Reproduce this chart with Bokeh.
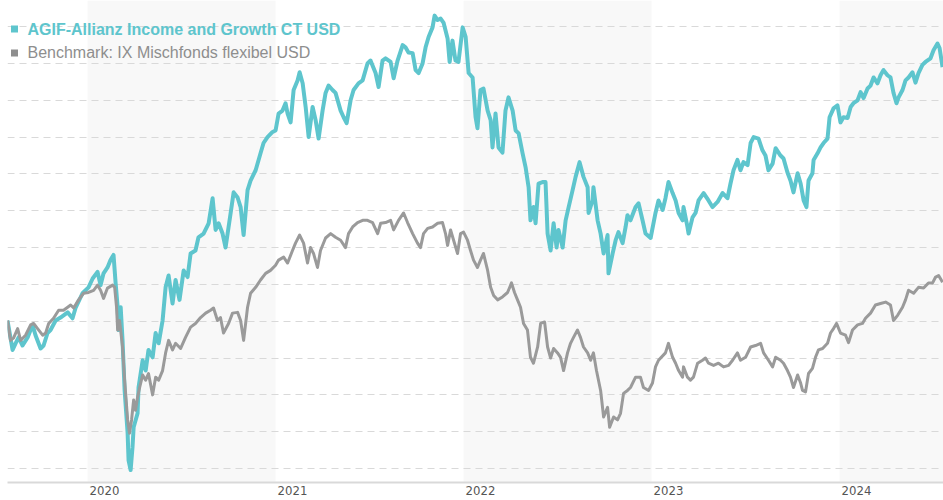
from bokeh.plotting import figure
from bokeh.models import Range1d, BoxAnnotation, FixedTicker, Label
from bokeh.embed import file_html
from bokeh.resources import INLINE

# ---------------- data (performance in %, time in decimal years) ----------------
FUND_NAME = "AGIF-Allianz Income and Growth CT USD"
BENCH_NAME = "Benchmark: IX Mischfonds flexibel USD"

YEARS = [2020, 2021, 2022, 2023, 2024]
SHADED_YEARS = [2020, 2022, 2024]
GRID_VALUES = [-20, -15, -10, -5, 0, 5, 10, 15, 20, 25, 30, 35, 40]

FUND_T = [
    2019.574, 2019.601, 2019.617, 2019.633, 2019.654, 2019.681, 2019.707, 2019.723, 2019.750, 2019.766,
    2019.787, 2019.803, 2019.830, 2019.856, 2019.894, 2019.920, 2019.936, 2019.973, 2020.005, 2020.027,
    2020.053, 2020.069, 2020.085, 2020.106, 2020.122, 2020.138, 2020.149, 2020.160, 2020.165, 2020.176,
    2020.186, 2020.197, 2020.213, 2020.218, 2020.229, 2020.239, 2020.245, 2020.266, 2020.271, 2020.293,
    2020.309, 2020.324, 2020.346, 2020.362, 2020.378, 2020.399, 2020.415, 2020.431, 2020.452, 2020.468,
    2020.489, 2020.511, 2020.532, 2020.548, 2020.574, 2020.590, 2020.617, 2020.644, 2020.665, 2020.681,
    2020.697, 2020.718, 2020.734, 2020.761, 2020.777, 2020.798, 2020.814, 2020.830, 2020.851, 2020.867,
    2020.894, 2020.920, 2020.936, 2020.957, 2020.984, 2021.000, 2021.016, 2021.037, 2021.053, 2021.064,
    2021.080, 2021.096, 2021.117, 2021.128, 2021.144, 2021.160, 2021.176, 2021.197, 2021.213, 2021.229,
    2021.250, 2021.266, 2021.282, 2021.303, 2021.319, 2021.346, 2021.362, 2021.378, 2021.399, 2021.415,
    2021.441, 2021.463, 2021.489, 2021.505, 2021.532, 2021.548, 2021.569, 2021.585, 2021.612, 2021.628,
    2021.649, 2021.676, 2021.691, 2021.707, 2021.729, 2021.745, 2021.761, 2021.782, 2021.798, 2021.814,
    2021.835, 2021.846, 2021.862, 2021.878, 2021.894, 2021.915, 2021.926, 2021.941, 2021.957, 2021.973,
    2021.995, 2022.011, 2022.027, 2022.048, 2022.064, 2022.074, 2022.090, 2022.106, 2022.128, 2022.144,
    2022.154, 2022.170, 2022.186, 2022.207, 2022.223, 2022.239, 2022.261, 2022.277, 2022.293, 2022.314,
    2022.330, 2022.346, 2022.356, 2022.372, 2022.383, 2022.399, 2022.420, 2022.436, 2022.447, 2022.463,
    2022.479, 2022.495, 2022.505, 2022.527, 2022.543, 2022.559, 2022.580, 2022.596, 2022.617, 2022.638,
    2022.660, 2022.665, 2022.686, 2022.691, 2022.713, 2022.729, 2022.745, 2022.766, 2022.771, 2022.793,
    2022.809, 2022.824, 2022.846, 2022.862, 2022.872, 2022.888, 2022.915, 2022.931, 2022.952, 2022.968,
    2022.995, 2023.021, 2023.037, 2023.059, 2023.074, 2023.090, 2023.112, 2023.128, 2023.144, 2023.165,
    2023.170, 2023.191, 2023.197, 2023.218, 2023.234, 2023.250, 2023.277, 2023.303, 2023.324, 2023.351,
    2023.378, 2023.404, 2023.420, 2023.436, 2023.457, 2023.473, 2023.489, 2023.511, 2023.527, 2023.543,
    2023.569, 2023.590, 2023.606, 2023.622, 2023.644, 2023.660, 2023.686, 2023.702, 2023.723, 2023.739,
    2023.755, 2023.777, 2023.793, 2023.809, 2023.824, 2023.835, 2023.856, 2023.862, 2023.883, 2023.899,
    2023.915, 2023.936, 2023.947, 2023.968, 2023.989, 2024.005, 2024.021, 2024.043, 2024.059, 2024.074,
    2024.096, 2024.112, 2024.128, 2024.149, 2024.165, 2024.181, 2024.202, 2024.218, 2024.234, 2024.255,
    2024.271, 2024.287, 2024.303, 2024.314, 2024.335, 2024.351, 2024.367, 2024.388, 2024.404, 2024.420,
    2024.441, 2024.457, 2024.484, 2024.500, 2024.521, 2024.532, 2024.548,
]
FUND_V = [
    0.1, -3.9, -3.0, -2.2, -3.3, -2.2, -0.5, -1.9, -3.7, -3.3,
    -1.6, -1.2, 0.1, 0.5, 1.2, 0.4, 1.8, 3.8, 4.6, 5.8,
    6.7, 4.9, 6.5, 7.3, 8.3, 9.0, 5.2, 1.9, -1.2, 1.9,
    -2.6, -9.4, -15.2, -18.9, -20.2, -17.1, -14.4, -12.5, -9.0, -5.3,
    -6.7, -3.9, -4.9, -1.6, -3.0, 0.1, 4.6, 6.2, 2.4, 5.6,
    2.9, 6.9, 6.0, 9.2, 9.6, 11.4, 11.9, 13.3, 16.7, 12.4,
    13.3, 11.9, 10.0, 14.7, 17.5, 16.8, 15.5, 11.7, 17.8, 19.1,
    20.5, 22.8, 24.2, 25.0, 25.7, 25.9, 28.2, 28.6, 29.6, 28.2,
    27.0, 31.4, 32.7, 33.8, 32.3, 29.1, 25.0, 29.1, 27.3, 24.8,
    28.6, 31.0, 32.0, 31.4, 31.0, 28.6, 27.7, 26.9, 30.0, 31.4,
    32.3, 32.7, 35.0, 35.4, 33.7, 31.8, 35.4, 35.7, 35.2, 33.0,
    35.4, 37.5, 37.2, 36.5, 36.4, 34.1, 33.7, 35.0, 37.2, 38.6,
    39.9, 41.5, 40.9, 41.1, 40.5, 38.4, 35.2, 38.1, 35.4, 35.2,
    39.9, 38.6, 33.7, 33.1, 27.7, 26.2, 31.4, 31.6, 28.6, 27.3,
    23.6, 28.2, 23.6, 22.9, 28.6, 30.4, 28.6, 25.9, 25.5, 22.8,
    20.9, 18.2, 13.7, 15.5, 13.3, 18.7, 18.9, 18.9, 11.9, 9.6,
    13.3, 10.0, 12.4, 10.0, 13.7, 15.5, 17.8, 19.6, 21.6, 19.6,
    18.2, 14.7, 16.4, 18.2, 13.7, 11.9, 9.2, 11.7, 6.5, 9.2,
    11.0, 12.1, 10.6, 12.8, 14.4, 13.7, 15.5, 16.0, 13.7, 11.9,
    11.3, 14.7, 16.4, 15.1, 16.7, 18.9, 17.4, 16.4, 14.7, 13.7,
    15.5, 12.8, 11.9, 14.1, 14.7, 16.4, 17.4, 16.4, 15.5, 16.2,
    17.4, 16.7, 18.7, 20.5, 21.9, 20.5, 21.6, 21.2, 24.2, 25.0,
    24.8, 23.2, 22.5, 20.5, 21.4, 23.5, 22.5, 22.1, 20.2, 19.1,
    17.5, 20.1, 18.7, 16.4, 15.5, 19.1, 20.1, 21.9, 22.8, 23.6,
    24.2, 24.8, 27.7, 28.9, 29.3, 27.0, 27.7, 27.6, 29.1, 29.6,
    30.0, 31.1, 30.3, 31.6, 32.0, 33.1, 32.3, 33.4, 34.1, 33.4,
    33.1, 31.0, 29.6, 30.4, 31.4, 32.7, 33.1, 33.8, 32.4, 33.7,
    34.8, 35.2, 35.7, 36.8, 37.7, 37.1, 34.5,
]

BENCH_T = [
    2019.574, 2019.590, 2019.606, 2019.628, 2019.644, 2019.670, 2019.697, 2019.713, 2019.734, 2019.761,
    2019.777, 2019.793, 2019.819, 2019.846, 2019.872, 2019.894, 2019.910, 2019.926, 2019.952, 2019.979,
    2020.005, 2020.032, 2020.053, 2020.069, 2020.085, 2020.106, 2020.133, 2020.144, 2020.154, 2020.160,
    2020.170, 2020.186, 2020.197, 2020.213, 2020.223, 2020.234, 2020.245, 2020.255, 2020.266, 2020.277,
    2020.293, 2020.309, 2020.324, 2020.346, 2020.362, 2020.378, 2020.399, 2020.415, 2020.431, 2020.452,
    2020.468, 2020.495, 2020.521, 2020.548, 2020.574, 2020.601, 2020.628, 2020.654, 2020.670, 2020.691,
    2020.707, 2020.723, 2020.750, 2020.771, 2020.798, 2020.814, 2020.830, 2020.851, 2020.867, 2020.894,
    2020.920, 2020.947, 2020.973, 2021.000, 2021.016, 2021.043, 2021.064, 2021.090, 2021.106, 2021.128,
    2021.149, 2021.170, 2021.186, 2021.202, 2021.223, 2021.239, 2021.266, 2021.293, 2021.319, 2021.346,
    2021.372, 2021.388, 2021.410, 2021.436, 2021.463, 2021.489, 2021.516, 2021.543, 2021.559, 2021.585,
    2021.612, 2021.628, 2021.654, 2021.681, 2021.702, 2021.729, 2021.755, 2021.771, 2021.787, 2021.809,
    2021.835, 2021.862, 2021.888, 2021.904, 2021.915, 2021.931, 2021.947, 2021.968, 2021.984, 2022.000,
    2022.021, 2022.037, 2022.053, 2022.074, 2022.090, 2022.106, 2022.128, 2022.144, 2022.160, 2022.181,
    2022.207, 2022.234, 2022.255, 2022.271, 2022.287, 2022.303, 2022.319, 2022.340, 2022.356, 2022.372,
    2022.394, 2022.410, 2022.431, 2022.447, 2022.463, 2022.479, 2022.500, 2022.516, 2022.532, 2022.553,
    2022.569, 2022.585, 2022.606, 2022.622, 2022.638, 2022.660, 2022.676, 2022.691, 2022.707, 2022.729,
    2022.745, 2022.766, 2022.777, 2022.798, 2022.819, 2022.835, 2022.851, 2022.872, 2022.888, 2022.915,
    2022.941, 2022.957, 2022.984, 2023.005, 2023.021, 2023.037, 2023.074, 2023.090, 2023.112, 2023.128,
    2023.144, 2023.165, 2023.170, 2023.191, 2023.207, 2023.223, 2023.245, 2023.271, 2023.287, 2023.303,
    2023.330, 2023.356, 2023.383, 2023.410, 2023.431, 2023.457, 2023.473, 2023.500, 2023.527, 2023.553,
    2023.580, 2023.596, 2023.622, 2023.644, 2023.660, 2023.686, 2023.702, 2023.723, 2023.739, 2023.755,
    2023.777, 2023.793, 2023.803, 2023.819, 2023.835, 2023.856, 2023.872, 2023.888, 2023.910, 2023.936,
    2023.952, 2023.968, 2023.984, 2024.005, 2024.032, 2024.048, 2024.069, 2024.096, 2024.122, 2024.138,
    2024.165, 2024.191, 2024.218, 2024.245, 2024.271, 2024.287, 2024.309, 2024.335, 2024.351, 2024.367,
    2024.394, 2024.420, 2024.447, 2024.473, 2024.495, 2024.511, 2024.527, 2024.548,
]
BENCH_V = [
    0.1, -2.6, -2.3, -1.0, -2.6, -1.9, -0.5, -0.3, -1.0, -1.9,
    -1.6, -0.3, 0.4, 1.5, 1.5, 1.9, 2.2, 1.8, 2.9, 3.8,
    3.9, 4.2, 4.9, 4.2, 3.1, 4.5, 4.9, 4.6, 1.9, -1.2,
    0.1, -3.5, -8.0, -13.4, -15.2, -13.4, -10.7, -12.1, -10.3, -9.0,
    -7.3, -8.0, -7.1, -10.0, -7.6, -8.0, -6.7, -4.3, -2.6, -3.9,
    -3.0, -3.7, -2.2, -0.8, -0.3, 0.5, 1.1, 1.5, 1.8, 0.1,
    0.5, -1.6, -0.3, 1.1, 1.2, 0.1, -2.6, 1.9, 3.8, 4.6,
    5.6, 6.5, 6.9, 7.6, 8.3, 8.7, 7.9, 9.6, 10.6, 11.7,
    10.6, 7.9, 10.0, 9.2, 7.3, 9.6, 11.3, 11.9, 11.4, 11.0,
    10.0, 11.9, 12.8, 13.4, 13.7, 13.7, 13.4, 11.9, 13.3, 13.4,
    13.7, 12.4, 13.7, 14.7, 13.4, 11.9, 10.6, 10.0, 11.9, 12.6,
    12.8, 13.3, 13.4, 11.9, 10.3, 12.4, 11.0, 9.2, 11.9, 12.1,
    11.0, 9.6, 8.3, 7.3, 8.3, 9.2, 6.9, 4.6, 3.5, 2.9,
    3.3, 3.9, 5.2, 3.9, 2.9, 1.9, -0.3, -1.2, -4.9, -5.7,
    -3.5, -0.3, -0.1, -3.5, -5.0, -3.7, -4.3, -4.9, -6.7, -4.3,
    -3.0, -2.2, -1.2, -2.2, -3.5, -4.3, -5.3, -4.3, -6.7, -9.4,
    -13.0, -11.7, -14.4, -13.0, -13.4, -12.5, -9.8, -9.4, -9.0, -7.6,
    -7.6, -9.0, -9.4, -8.4, -6.2, -5.3, -4.3, -3.0, -4.9, -5.7,
    -6.7, -7.6, -6.2, -7.6, -8.0, -7.6, -5.7, -5.3, -5.0, -5.7,
    -6.0, -5.7, -6.2, -6.0, -5.3, -4.3, -5.3, -4.9, -3.5, -3.3,
    -3.0, -4.3, -5.3, -6.2, -4.9, -5.3, -5.7, -6.7, -7.6, -9.0,
    -7.3, -8.4, -9.4, -9.6, -7.1, -6.4, -4.9, -3.9, -3.7, -3.0,
    -1.6, -1.0, -0.3, -1.6, -1.9, -2.9, -1.2, -0.5, -0.3, 0.4,
    1.1, 2.2, 2.4, 2.6, 2.2, 0.1, 0.8, 1.9, 2.9, 4.2,
    3.8, 4.6, 4.5, 5.2, 5.2, 6.0, 6.2, 5.3,
]

assert len(FUND_T) == len(FUND_V), (len(FUND_T), len(FUND_V))
assert len(BENCH_T) == len(BENCH_V), (len(BENCH_T), len(BENCH_V))

# ---------------- styling ----------------
TEAL = "#5ec5cd"
GREY = "#9a9a9a"
LEGEND_GREY = "#8e8e8e"
BAND = "#f8f8f8"
FONT = "Liberation Sans"
AXIS_FONT = "'Liberation Sans Narrow', 'DejaVu Sans Condensed', 'Liberation Sans', sans-serif"

p = figure(
    width=943, height=500,
    output_backend="svg", toolbar_location=None,
    x_range=Range1d(2019.574, 2024.553),
    y_range=Range1d(-21.9, 43.55),
    min_border_left=7, min_border_right=0, min_border_top=0, min_border_bottom=18,
)
p.outline_line_color = None
p.background_fill_color = "white"
p.border_fill_color = "white"

# shaded year bands
for yr in SHADED_YEARS:
    p.add_layout(BoxAnnotation(left=yr, right=yr + 1, fill_color=BAND, fill_alpha=1.0,
                               line_color=None, level="image"))

# grid
p.xgrid.visible = False
p.ygrid.ticker = FixedTicker(ticks=GRID_VALUES)
p.ygrid.grid_line_color = "#d9d9d9"
p.ygrid.grid_line_dash = "7 5"
p.ygrid.grid_line_width = 1

# axes
p.yaxis.visible = False
label_ticks = [yr + 0.09 for yr in YEARS]
p.xaxis.ticker = FixedTicker(ticks=label_ticks)
p.xaxis.major_label_overrides = {t: str(yr) for t, yr in zip(label_ticks, YEARS)}
p.xaxis.axis_line_color = "#d9d9d9"
p.xaxis.axis_line_width = 2
p.xaxis.major_tick_line_color = None
p.xaxis.minor_tick_line_color = None
p.xaxis.major_tick_out = 0
p.xaxis.major_tick_in = 0
p.xaxis.major_label_standoff = 3
p.xaxis.major_label_text_font = AXIS_FONT
p.xaxis.major_label_text_font_size = "13px"
p.xaxis.major_label_text_color = "#555555"

# lines
p.line(FUND_T, FUND_V, line_color=TEAL, line_width=4, line_join="round")
p.line(BENCH_T, BENCH_V, line_color=GREY, line_width=3, line_join="round")

# legend (manual)
FRAME_H = 482
p.add_layout(BoxAnnotation(left=3.5, right=10.5, top=FRAME_H - 25, bottom=FRAME_H - 32,
                           left_units="screen", right_units="screen",
                           top_units="screen", bottom_units="screen",
                           fill_color=TEAL, fill_alpha=1.0, line_color=None, level="overlay"))
p.add_layout(BoxAnnotation(left=3.5, right=10.5, top=FRAME_H - 49, bottom=FRAME_H - 56,
                           left_units="screen", right_units="screen",
                           top_units="screen", bottom_units="screen",
                           fill_color=LEGEND_GREY, fill_alpha=1.0, line_color=None, level="overlay"))
p.add_layout(Label(x=20, y=FRAME_H - 29, x_units="screen", y_units="screen", text=FUND_NAME,
                   text_font=FONT, text_font_size="16px", text_font_style="bold",
                   text_color=TEAL, text_baseline="middle", text_align="left"))
p.add_layout(Label(x=20, y=FRAME_H - 52, x_units="screen", y_units="screen", text=BENCH_NAME,
                   text_font=FONT, text_font_size="16px",
                   text_color=LEGEND_GREY, text_baseline="middle", text_align="left"))

open("out.html", "w").write(file_html(p, INLINE))
